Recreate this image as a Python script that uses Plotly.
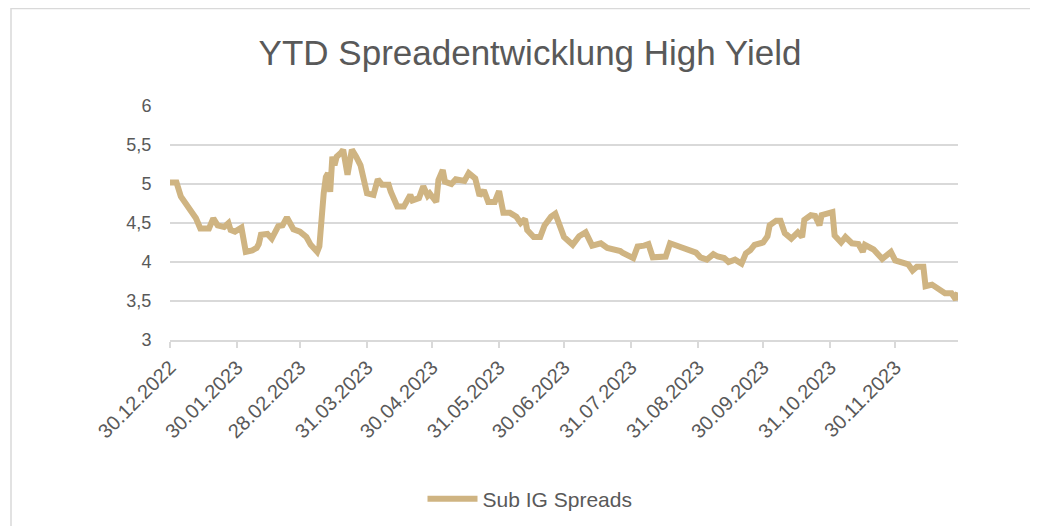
import plotly.graph_objects as go

# ---- data ----
dates = [
    "2022-12-30", "2023-01-02", "2023-01-04", "2023-01-07", "2023-01-11", "2023-01-13",
    "2023-01-17", "2023-01-19", "2023-01-21", "2023-01-24", "2023-01-26", "2023-01-27",
    "2023-01-29", "2023-02-01", "2023-02-03", "2023-02-06", "2023-02-08", "2023-02-09",
    "2023-02-10", "2023-02-13", "2023-02-15", "2023-02-18", "2023-02-20", "2023-02-22",
    "2023-02-25", "2023-02-28", "2023-03-03", "2023-03-05", "2023-03-08", "2023-03-09",
    "2023-03-10", "2023-03-11", "2023-03-12", "2023-03-13", "2023-03-14", "2023-03-15",
    "2023-03-16", "2023-03-17", "2023-03-19", "2023-03-20", "2023-03-22", "2023-03-23",
    "2023-03-24", "2023-03-26", "2023-03-28", "2023-03-31", "2023-04-03", "2023-04-05",
    "2023-04-07", "2023-04-10", "2023-04-11", "2023-04-14", "2023-04-17", "2023-04-20",
    "2023-04-21", "2023-04-24", "2023-04-26", "2023-04-28", "2023-04-29", "2023-05-02",
    "2023-05-03", "2023-05-05", "2023-05-06", "2023-05-09", "2023-05-11", "2023-05-15",
    "2023-05-17", "2023-05-20", "2023-05-22", "2023-05-24", "2023-05-26", "2023-05-29",
    "2023-05-31", "2023-06-02", "2023-06-05", "2023-06-08", "2023-06-10", "2023-06-12",
    "2023-06-13", "2023-06-16", "2023-06-19", "2023-06-21", "2023-06-24", "2023-06-26",
    "2023-06-28", "2023-06-30", "2023-07-04", "2023-07-07", "2023-07-10", "2023-07-13",
    "2023-07-17", "2023-07-20", "2023-07-26", "2023-07-27", "2023-08-01", "2023-08-03",
    "2023-08-06", "2023-08-08", "2023-08-10", "2023-08-16", "2023-08-18", "2023-08-22",
    "2023-08-26", "2023-08-30", "2023-09-01", "2023-09-04", "2023-09-07", "2023-09-09",
    "2023-09-12", "2023-09-14", "2023-09-17", "2023-09-20", "2023-09-22", "2023-09-24",
    "2023-09-26", "2023-09-30", "2023-10-02", "2023-10-03", "2023-10-06", "2023-10-08",
    "2023-10-10", "2023-10-13", "2023-10-16", "2023-10-18", "2023-10-19", "2023-10-22",
    "2023-10-24", "2023-10-26", "2023-10-27", "2023-10-30", "2023-11-01", "2023-11-02",
    "2023-11-05", "2023-11-07", "2023-11-10", "2023-11-13", "2023-11-15", "2023-11-16",
    "2023-11-20", "2023-11-24", "2023-11-28", "2023-11-30", "2023-12-03", "2023-12-06",
    "2023-12-08", "2023-12-10", "2023-12-13", "2023-12-14", "2023-12-17", "2023-12-20",
    "2023-12-23", "2023-12-26", "2023-12-28", "2023-12-29",
]
spreads = [
    5.02, 5.02, 4.84, 4.71, 4.56, 4.43,
    4.43, 4.56, 4.47, 4.45, 4.50, 4.41,
    4.39, 4.44, 4.13, 4.15, 4.18, 4.23,
    4.35, 4.36, 4.30, 4.46, 4.47, 4.57,
    4.42, 4.39, 4.32, 4.22, 4.13, 4.20,
    4.62, 4.88, 5.09, 5.14, 4.90, 5.35,
    5.24, 5.35, 5.40, 5.44, 5.12, 5.29,
    5.44, 5.35, 5.24, 4.88, 4.86, 5.06,
    4.99, 4.99, 4.90, 4.71, 4.71, 4.86,
    4.79, 4.82, 4.97, 4.85, 4.88, 4.77,
    5.05, 5.18, 5.03, 5.00, 5.06, 5.04,
    5.14, 5.07, 4.85, 4.92, 4.77, 4.77,
    4.91, 4.63, 4.63, 4.58, 4.50, 4.55,
    4.41, 4.32, 4.32, 4.47, 4.58, 4.62,
    4.47, 4.32, 4.22, 4.33, 4.38, 4.21,
    4.24, 4.18, 4.14, 4.12, 4.05, 4.20,
    4.21, 4.23, 4.06, 4.07, 4.24, 4.20,
    4.14, 4.12, 4.06, 4.03, 4.10, 4.07,
    4.05, 4.00, 4.03, 3.98, 4.11, 4.15,
    4.22, 4.25, 4.33, 4.47, 4.53, 4.53,
    4.37, 4.30, 4.38, 4.32, 4.54, 4.60,
    4.59, 4.47, 4.60, 4.63, 4.64, 4.34,
    4.25, 4.32, 4.24, 4.23, 4.13, 4.22,
    4.16, 4.04, 4.13, 4.02, 4.00, 3.97,
    3.89, 3.94, 3.94, 3.69, 3.71, 3.66,
    3.60, 3.60, 3.52, 3.61,
]
series_name = "Sub IG Spreads"
chart_title = "YTD Spreadentwicklung High Yield"

tick_dates = ["2022-12-30", "2023-01-30", "2023-02-28", "2023-03-31", "2023-04-30",
              "2023-05-31", "2023-06-30", "2023-07-31", "2023-08-31", "2023-09-30",
              "2023-10-31", "2023-11-30"]
tick_labels = ["30.12.2022", "30.01.2023", "28.02.2023", "31.03.2023", "30.04.2023",
               "31.05.2023", "30.06.2023", "31.07.2023", "31.08.2023", "30.09.2023",
               "31.10.2023", "30.11.2023"]
y_ticks = [3, 3.5, 4, 4.5, 5, 5.5, 6]
y_labels = ["3", "3,5", "4", "4,5", "5", "5,5", "6"]

# ---- styling ----
LINE = "#CFB482"
TEXT = "#595959"
GRID = "#D9D9D9"
FONT = "Liberation Sans, Arial, sans-serif"

OFF = 8  # page body margin
W, H = 1038 - OFF, 526 - OFF
L = 170 - OFF
T = 106 - OFF
R = W - (958 - OFF)
B = H - (340 - OFF)
pw, ph = W - L - R, H - T - B

fig = go.Figure()
fig.add_trace(go.Scatter(
    x=dates, y=spreads, mode="lines", name=series_name,
    line=dict(color=LINE, width=6, shape="linear"),
))

fig.update_layout(
    width=W, height=H,
    margin=dict(l=L, r=R, t=T, b=B, autoexpand=False),
    paper_bgcolor="white", plot_bgcolor="white",
    font=dict(family=FONT, color=TEXT, size=17),
    title=dict(text=chart_title, xref="container", yref="container",
               x=(530 - OFF) / W, y=1 - (53 - OFF) / H, xanchor="center", yanchor="middle",
               font=dict(size=35, color=TEXT, family=FONT)),
    showlegend=True,
    legend=dict(orientation="h", x=(530 - 170) / pw, xanchor="center",
                y=(340 - 499) / ph, yanchor="middle",
                font=dict(size=21, color=TEXT), itemwidth=50),
    xaxis=dict(
        type="date", range=["2022-12-30", "2023-12-29"],
        tickmode="array", tickvals=tick_dates, ticktext=tick_labels,
        tickangle=-45, showgrid=False, showline=True, linecolor=GRID, linewidth=1.5,
        ticks="outside", ticklen=6, tickcolor=GRID, tickwidth=1.5,
        tickfont=dict(size=20, color=TEXT), zeroline=False, automargin=False,
    ),
    yaxis=dict(
        range=[3, 6], tickmode="array", tickvals=y_ticks, ticktext=y_labels,
        showgrid=True, gridcolor=GRID, gridwidth=1.5, zeroline=False, showline=False,
        ticks="outside", ticklen=14, tickcolor="rgba(0,0,0,0)",
        tickfont=dict(size=18, color=TEXT), automargin=False,
    ),
    shapes=[dict(type="rect", xref="paper", yref="paper",
                 x0=(3 - L) / pw, x1=(1024 - L) / pw,
                 y0=(H - B - 560) / ph, y1=(H - B - 0.5) / ph,
                 line=dict(color=GRID, width=1.5), fillcolor="rgba(0,0,0,0)", layer="below")],
)

fig.write_html("out.html")
